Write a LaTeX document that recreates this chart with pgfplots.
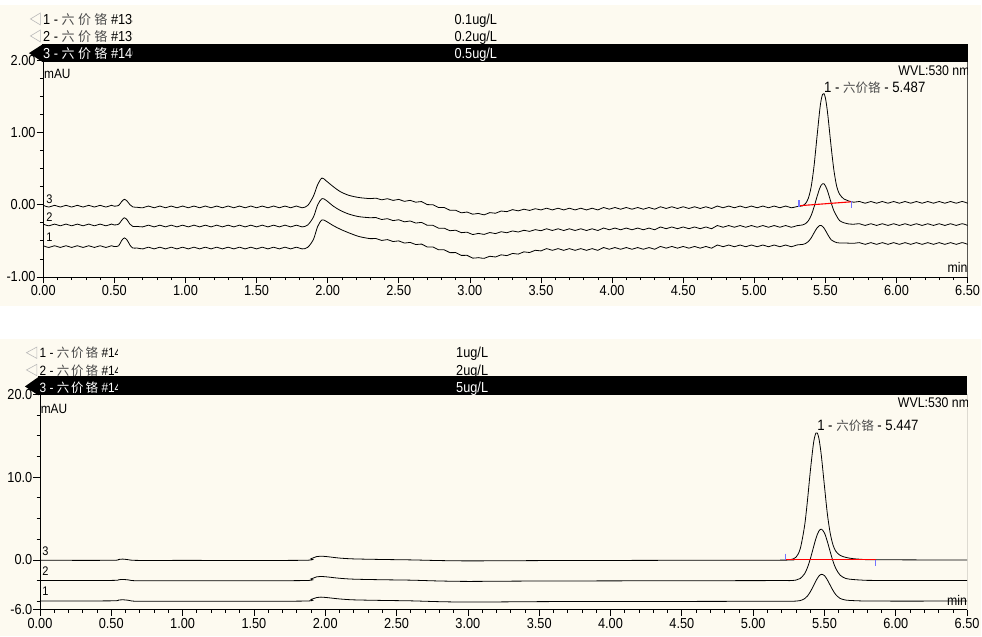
\documentclass[border=0pt]{standalone}
\usepackage{graphicx}
\usepackage{pgfplots}
\pgfplotsset{compat=1.18}
\usepackage{pgfplotstable}
\usepackage{fontspec}
\setmainfont{Liberation Sans}[FakeStretch=0.88]
\newfontfamily\cjkh{Noto Sans CJK SC}
\definecolor{cream}{RGB}{253,250,240}
\definecolor{intblue}{RGB}{115,115,255}
\newcommand{\fs}[1]{\fontsize{#1bp}{#1bp}\selectfont}
\newcommand{\ljp}{{\fs{12.5}\cjkh\color{black!70}六价铬}}
\newcommand{\ljt}[2]{{\fs{#1}\cjkh\color{black!70}六\hspace{#2bp}价\hspace{#2bp}铬}}
\newcommand{\ljw}[2]{{\fs{#1}\cjkh 六\hspace{#2bp}价\hspace{#2bp}铬}}

\pgfplotstableread{
t a3 a2 a1
0.00 -0.008 -0.268 -0.568
0.04 -0.032 -0.292 -0.592
0.08 -0.008 -0.268 -0.568
0.12 -0.032 -0.292 -0.592
0.16 -0.008 -0.268 -0.568
0.20 -0.032 -0.292 -0.592
0.24 -0.008 -0.268 -0.568
0.28 -0.032 -0.292 -0.592
0.32 -0.008 -0.268 -0.568
0.36 -0.032 -0.292 -0.592
0.40 -0.008 -0.268 -0.568
0.44 -0.032 -0.292 -0.592
0.48 -0.008 -0.268 -0.568
0.50 -0.020 -0.280 -0.580
0.53 -0.010 -0.270 -0.570
0.55 0.040 -0.220 -0.500
0.57 0.075 -0.180 -0.460
0.59 0.050 -0.210 -0.490
0.61 0.000 -0.270 -0.560
0.63 -0.030 -0.300 -0.600
0.66 -0.035 -0.300 -0.600
0.70 -0.042 -0.307 -0.612
0.74 -0.018 -0.283 -0.588
0.78 -0.042 -0.307 -0.612
0.82 -0.018 -0.283 -0.588
0.86 -0.042 -0.307 -0.612
0.90 -0.018 -0.283 -0.588
0.94 -0.042 -0.307 -0.612
0.98 -0.018 -0.283 -0.588
1.02 -0.042 -0.307 -0.612
1.06 -0.018 -0.283 -0.588
1.10 -0.042 -0.307 -0.612
1.14 -0.018 -0.283 -0.588
1.18 -0.042 -0.307 -0.612
1.22 -0.018 -0.283 -0.588
1.26 -0.042 -0.307 -0.612
1.30 -0.018 -0.283 -0.588
1.34 -0.042 -0.307 -0.612
1.38 -0.018 -0.283 -0.588
1.42 -0.042 -0.307 -0.612
1.46 -0.018 -0.283 -0.588
1.50 -0.042 -0.307 -0.612
1.54 -0.018 -0.283 -0.588
1.58 -0.042 -0.307 -0.612
1.62 -0.018 -0.283 -0.588
1.66 -0.042 -0.307 -0.612
1.70 -0.018 -0.283 -0.588
1.74 -0.042 -0.307 -0.612
1.78 -0.018 -0.283 -0.588
1.82 -0.042 -0.307 -0.612
1.86 -0.010 -0.280 -0.590
1.90 0.120 -0.170 -0.480
1.93 0.280 0.000 -0.300
1.96 0.370 0.085 -0.210
1.99 0.330 0.060 -0.230
2.04 0.250 -0.020 -0.290
2.09 0.180 -0.080 -0.340
2.15 0.130 -0.130 -0.390
2.22 0.100 -0.165 -0.440
2.30 0.085 -0.180 -0.470
2.34 0.091 -0.178 -0.468
2.38 0.068 -0.205 -0.495
2.42 0.084 -0.193 -0.483
2.46 0.060 -0.220 -0.510
2.50 0.074 -0.208 -0.501
2.54 0.047 -0.237 -0.531
2.58 0.061 -0.225 -0.522
2.62 0.035 -0.254 -0.552
2.66 0.044 -0.245 -0.545
2.70 0.002 -0.285 -0.585
2.74 0.000 -0.285 -0.585
2.78 -0.039 -0.325 -0.625
2.82 -0.038 -0.325 -0.625
2.86 -0.077 -0.360 -0.664
2.90 -0.076 -0.353 -0.663
2.94 -0.112 -0.387 -0.702
2.98 -0.101 -0.380 -0.701
3.02 -0.131 -0.413 -0.740
3.06 -0.120 -0.397 -0.733
3.10 -0.140 -0.411 -0.743
3.14 -0.109 -0.385 -0.714
3.18 -0.118 -0.400 -0.724
3.22 -0.087 -0.374 -0.694
3.26 -0.096 -0.388 -0.705
3.30 -0.068 -0.363 -0.675
3.34 -0.085 -0.378 -0.684
3.38 -0.062 -0.354 -0.653
3.42 -0.079 -0.369 -0.662
3.46 -0.055 -0.345 -0.631
3.50 -0.072 -0.360 -0.640
3.54 -0.048 -0.333 -0.608
3.58 -0.072 -0.357 -0.632
3.62 -0.048 -0.333 -0.608
3.66 -0.072 -0.357 -0.632
3.70 -0.048 -0.333 -0.608
3.74 -0.072 -0.357 -0.632
3.78 -0.048 -0.333 -0.608
3.82 -0.072 -0.357 -0.632
3.86 -0.048 -0.333 -0.608
3.90 -0.072 -0.357 -0.632
3.94 -0.038 -0.323 -0.593
3.98 -0.062 -0.347 -0.617
4.02 -0.038 -0.323 -0.593
4.06 -0.062 -0.347 -0.617
4.10 -0.038 -0.323 -0.593
4.14 -0.062 -0.347 -0.617
4.18 -0.038 -0.323 -0.593
4.22 -0.062 -0.347 -0.617
4.26 -0.038 -0.323 -0.593
4.30 -0.062 -0.347 -0.617
4.34 -0.028 -0.308 -0.578
4.38 -0.052 -0.332 -0.602
4.42 -0.028 -0.308 -0.578
4.46 -0.052 -0.332 -0.602
4.50 -0.028 -0.308 -0.578
4.54 -0.052 -0.332 -0.602
4.58 -0.028 -0.308 -0.578
4.62 -0.052 -0.332 -0.602
4.66 -0.028 -0.308 -0.578
4.70 -0.052 -0.332 -0.602
4.74 -0.018 -0.288 -0.558
4.78 -0.042 -0.312 -0.582
4.82 -0.018 -0.288 -0.558
4.86 -0.042 -0.312 -0.582
4.90 -0.018 -0.288 -0.558
4.94 -0.042 -0.312 -0.582
4.98 -0.018 -0.288 -0.558
5.02 -0.042 -0.312 -0.582
5.06 -0.018 -0.288 -0.558
5.10 -0.042 -0.312 -0.582
5.14 -0.018 -0.288 -0.558
5.18 -0.042 -0.312 -0.582
5.22 -0.018 -0.288 -0.558
5.26 -0.042 -0.312 -0.582
5.30 -0.025 -0.290 -0.557
5.34 -0.015 -0.280 -0.550
5.36 0.016 -0.262 -0.538
5.38 0.090 -0.222 -0.510
5.40 0.250 -0.148 -0.460
5.42 0.535 -0.032 -0.390
5.44 0.925 0.105 -0.325
5.46 1.310 0.228 -0.287
5.47 1.450 0.270 -0.287
5.48 1.530 0.290 -0.300
5.49 1.540 0.290 -0.323
5.50 1.480 0.262 -0.355
5.51 1.355 0.218 -0.390
5.52 1.190 0.160 -0.425
5.54 0.810 0.030 -0.485
5.56 0.475 -0.085 -0.510
5.58 0.250 -0.160 -0.525
5.60 0.145 -0.220 -0.530
5.63 0.080 -0.250 -0.530
5.66 0.055 -0.265 -0.532
5.70 0.035 -0.270 -0.535
5.74 0.045 -0.263 -0.525
5.78 0.021 -0.287 -0.549
5.82 0.045 -0.263 -0.525
5.86 0.021 -0.287 -0.549
5.90 0.045 -0.263 -0.525
5.94 0.021 -0.287 -0.549
5.98 0.045 -0.263 -0.525
6.02 0.021 -0.287 -0.549
6.06 0.045 -0.263 -0.525
6.10 0.021 -0.287 -0.549
6.14 0.045 -0.263 -0.525
6.18 0.021 -0.287 -0.549
6.22 0.045 -0.263 -0.525
6.26 0.021 -0.287 -0.549
6.30 0.045 -0.263 -0.525
6.34 0.021 -0.287 -0.549
6.38 0.045 -0.263 -0.525
6.42 0.021 -0.287 -0.549
6.46 0.045 -0.263 -0.525
6.50 0.021 -0.287 -0.549
}\topdata

\pgfplotstableread{
t b3 b2 b1
0.00 -0.05 -2.50 -4.97
0.50 -0.05 -2.48 -4.95
0.55 0.05 -2.40 -4.85
0.58 0.10 -2.36 -4.82
0.62 0.02 -2.42 -4.88
0.68 -0.06 -2.52 -5.00
1.00 -0.06 -2.52 -5.00
1.84 -0.05 -2.50 -4.98
1.90 0.15 -2.30 -4.78
1.94 0.40 -2.05 -4.55
1.97 0.45 -2.00 -4.50
2.02 0.38 -2.07 -4.57
2.10 0.22 -2.22 -4.72
2.20 0.12 -2.33 -4.83
2.40 0.05 -2.40 -4.90
2.60 0.00 -2.45 -4.95
2.80 -0.08 -2.55 -5.05
3.00 -0.12 -2.60 -5.10
3.30 -0.10 -2.57 -5.07
3.60 -0.08 -2.55 -5.04
4.50 -0.05 -2.52 -5.02
5.20 -0.03 -2.50 -5.00
5.26 0.03 -2.50 -5.00
5.30 0.32 -2.44 -4.98
5.33 1.34 -2.25 -4.92
5.36 4.05 -1.69 -4.70
5.38 7.05 -0.96 -4.38
5.40 10.60 0.08 -3.88
5.42 13.70 1.34 -3.23
5.43 14.77 1.98 -2.88
5.44 15.33 2.58 -2.54
5.45 15.33 3.08 -2.23
5.46 14.77 3.46 -1.98
5.47 13.70 3.68 -1.81
5.48 12.30 3.71 -1.74
5.50 8.90 3.25 -1.90
5.52 5.60 2.23 -2.41
5.54 3.25 1.00 -3.06
5.56 1.80 -0.17 -3.70
5.58 1.03 -1.06 -4.21
5.61 0.55 -1.85 -4.66
5.65 0.30 -2.25 -4.86
5.70 0.15 -2.37 -4.92
5.76 0.07 -2.44 -4.96
5.85 0.02 -2.48 -4.98
6.50 -0.02 -2.49 -4.98
}\botdata

\pgfplotsset{
  chrom/.style={
    scale only axis, xmin=0, xmax=6.5,
    axis lines*=left,
    axis line style={line width=0.8bp},
    tick align=outside,
    major tick length=6.5bp, minor tick length=3.3bp,
    tick style={line width=0.7bp, black},
    xtick={0,0.5,1,1.5,2,2.5,3,3.5,4,4.5,5,5.5,6,6.5},
    minor x tick num=4,
    /pgf/number format/assume math mode=true,
    tick label style={font=\fs{14.5}},
    xticklabel style={/pgf/number format/fixed,/pgf/number format/fixed zerofill,/pgf/number format/precision=2, inner sep=2bp},
    yticklabel style={inner sep=1bp},
  },
  trace/.style={black, line width=0.8bp, smooth, tension=0.5},
}

\begin{document}
\begin{tikzpicture}
\begin{scope}[x=1bp,y=-1bp]
  \fill[white] (0,0) rectangle (982,637);
  \fill[cream] (0,5) rectangle (982,306);
  \fill[cream] (0,339) rectangle (982,637);
\end{scope}

% ---------------- top panel ----------------
\begin{axis}[chrom, at={(43.3bp,-277.3bp)}, anchor=south west,
  width=925.7bp, height=216.8bp, ymin=-1, ymax=2,
  ytick={-1,0,1,2},
  minor ytick={-0.75,-0.5,-0.25,0.25,0.5,0.75,1.25,1.5,1.75},
  yticklabel style={/pgf/number format/fixed,/pgf/number format/fixed zerofill,/pgf/number format/precision=2}]
  \addplot[trace] table[x=t,y=a1] {\topdata};
  \addplot[trace] table[x=t,y=a2] {\topdata};
  \addplot[trace] table[x=t,y=a3] {\topdata};
  \addplot[red, line width=1.1bp] coordinates {(5.314,-0.014) (5.684,0.041)};
  \addplot[intblue, line width=1.1bp] coordinates {(5.314,0.06) (5.314,-0.025)};
  \addplot[intblue, line width=1.1bp] coordinates {(5.684,0.045) (5.684,-0.04)};
  \draw[line width=0.8bp] (rel axis cs:1,0) -- (rel axis cs:1,1);
  \node[anchor=base west, inner sep=0, font=\fs{12.5}] at (axis cs:0.02,0.024) {3};
  \node[anchor=base west, inner sep=0, font=\fs{12.5}] at (axis cs:0.02,-0.23) {2};
  \node[anchor=base west, inner sep=0, font=\fs{12.5}] at (axis cs:0.02,-0.51) {1};
  \node[anchor=base west, inner sep=0, font=\fs{13.5}] at (axis cs:0.005,1.747) {mAU};
  \begin{scope}
    \clip (rel axis cs:0,0) rectangle (rel axis cs:1,1);
    \node[anchor=base east, inner sep=0, font=\fs{14}] at (axis cs:6.515,1.788) {WVL:530 nm};
  \end{scope}
  \node[anchor=base west, inner sep=0, font=\fs{15}] at (axis cs:5.49,1.559) {1 - \ljp{} - 5.487};
  \node[anchor=base east, inner sep=0, font=\fs{14}] at (axis cs:6.5,-0.94) {min};
\end{axis}

% ---------------- bottom panel ----------------
\begin{axis}[chrom, at={(40bp,-610.4bp)}, anchor=south west,
  width=928.5bp, height=215.4bp, ymin=-6, ymax=20,
  ytick={-6,0,10,20},
  minor ytick={-5,-2.5,2.5,5,7.5,12.5,15,17.5},
  yticklabel style={/pgf/number format/fixed,/pgf/number format/fixed zerofill,/pgf/number format/precision=1}]
  \addplot[trace] table[x=t,y=b1] {\botdata};
  \addplot[trace] table[x=t,y=b2] {\botdata};
  \addplot[trace] table[x=t,y=b3] {\botdata};
  \addplot[red, line width=1.3bp] coordinates {(5.224,0.04) (5.859,0.04)};
  \addplot[intblue, line width=1.1bp] coordinates {(5.224,0.75) (5.224,0.04)};
  \addplot[intblue, line width=1.1bp] coordinates {(5.859,0.04) (5.859,-0.7)};
  \draw[line width=0.8bp] (rel axis cs:1,0) -- (rel axis cs:1,1);
  \node[anchor=base west, inner sep=0, font=\fs{12.5}] at (axis cs:0.015,0.57) {3};
  \node[anchor=base west, inner sep=0, font=\fs{12.5}] at (axis cs:0.015,-1.93) {2};
  \node[anchor=base west, inner sep=0, font=\fs{12.5}] at (axis cs:0.015,-4.35) {1};
  \node[anchor=base west, inner sep=0, font=\fs{13.5}] at (axis cs:0.005,17.72) {mAU};
  \begin{scope}
    \clip (rel axis cs:0,0) rectangle (rel axis cs:1,1);
    \node[anchor=base east, inner sep=0, font=\fs{14}] at (axis cs:6.515,18.4) {WVL:530 nm};
  \end{scope}
  \node[anchor=base west, inner sep=0, font=\fs{15}] at (axis cs:5.448,15.7) {1 - \ljp{} - 5.447};
  \node[anchor=base east, inner sep=0, font=\fs{14}] at (axis cs:6.5,-5.5) {min};
\end{axis}

% ---------------- headers ----------------
\begin{scope}[x=1bp,y=-1bp]
  % top
  \fill[black] (42,44) rectangle (969,62.3);
  \fill[black] (42.5,44.5) -- (29,53.2) -- (42.5,62) -- cycle;
  \draw[gray!55, line width=0.6bp] (40.5,13) -- (30.5,19) -- (40.5,25) -- cycle;
  \draw[gray!55, line width=0.6bp] (40.5,30) -- (30.5,36) -- (40.5,42) -- cycle;
  \begin{scope}
    \clip (41,5) rectangle (133,62);
    \node[anchor=base west, inner sep=0, font=\fs{14.5}] at (43,24.3) {1 - \ljt{13}{3.5} \#138};
    \node[anchor=base west, inner sep=0, font=\fs{14.5}] at (43,41.5) {2 - \ljt{13}{3.5} \#139};
    \node[anchor=base west, inner sep=0, font=\fs{14.5}, text=white] at (43,58.5) {3 - \ljw{13}{3.5} \#140};
  \end{scope}
  \node[anchor=base west, inner sep=0, font=\fs{14.5}] at (455,24.3) {0.1ug/L};
  \node[anchor=base west, inner sep=0, font=\fs{14.5}] at (455,41.5) {0.2ug/L};
  \node[anchor=base west, inner sep=0, font=\fs{14.5}, text=white] at (455,58.5) {0.5ug/L};
  % bottom
  \fill[black] (38,377) rectangle (968.5,395.5);
  \fill[black] (38.5,377.5) -- (25,387) -- (38.5,396) -- cycle;
  \draw[gray!55, line width=0.6bp] (37,347.5) -- (26.5,353.2) -- (37,359) -- cycle;
  \draw[gray!55, line width=0.6bp] (37,364.8) -- (26.5,370.5) -- (37,376.3) -- cycle;
  \begin{scope}
    \clip (38,339) rectangle (118,396);
    \node[anchor=base west, inner sep=0, font=\fs{13.5}] at (39.5,358.3) {1 - \ljt{12.5}{2} \#141};
    \node[anchor=base west, inner sep=0, font=\fs{13.5}] at (39.5,375.7) {2 - \ljt{12.5}{2} \#142};
    \node[anchor=base west, inner sep=0, font=\fs{13.5}, text=white] at (39.5,393) {3 - \ljw{12.5}{2} \#143};
  \end{scope}
  \node[anchor=base west, inner sep=0, font=\fs{14.5}] at (456.7,358.3) {1ug/L};
  \node[anchor=base west, inner sep=0, font=\fs{14.5}] at (456.7,375.7) {2ug/L};
  \node[anchor=base west, inner sep=0, font=\fs{14.5}, text=white] at (456.7,393) {5ug/L};
\end{scope}
\end{tikzpicture}
\end{document}
